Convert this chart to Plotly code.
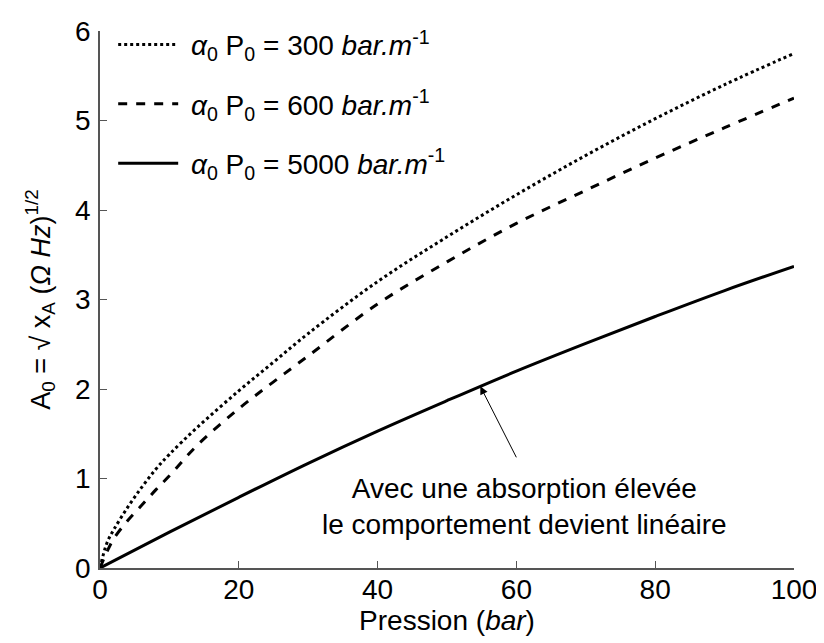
import plotly.graph_objects as go

# Data
x_300 = [0, 1, 2, 4, 6, 8, 10, 14, 20, 25, 30, 40, 50, 60, 70, 80, 90, 100]
y_300 = [0, 0.28, 0.43, 0.68, 0.9, 1.1, 1.27, 1.57, 1.98, 2.3, 2.62, 3.2, 3.7, 4.17, 4.61, 5.02, 5.4, 5.75]

x_600 = [0, 1, 2, 4, 6, 8, 10, 14, 20, 25, 30, 40, 50, 60, 70, 80, 90, 100]
y_600 = [0, 0.18, 0.33, 0.53, 0.7, 0.87, 1.03, 1.37, 1.78, 2.08, 2.37, 2.95, 3.42, 3.85, 4.22, 4.58, 4.92, 5.25]

x_5000 = [0, 10, 20, 30, 40, 50, 60, 70, 80, 90, 100]
y_5000 = [0, 0.4, 0.79, 1.17, 1.53, 1.87, 2.2, 2.51, 2.81, 3.1, 3.37]

names = [
    "\u00a0<i>α</i><sub>0</sub> P<sub>0</sub> = 300 <i>bar.m</i><sup>-1</sup>",
    "\u00a0<i>α</i><sub>0</sub> P<sub>0</sub> = 600 <i>bar.m</i><sup>-1</sup>",
    "\u00a0<i>α</i><sub>0</sub> P<sub>0</sub> = 5000 <i>bar.m</i><sup>-1</sup>",
]
x_ticks = [0, 20, 40, 60, 80, 100]
y_ticks = [0, 1, 2, 3, 4, 5, 6]

annot_text = "Avec une absorption élevée<br>le comportement devient linéaire"
arrow_head = (54.8, 2.03)
arrow_tail = (60.1, 1.22)
annot_pos = (61.2, 0.69)

FONT = "Liberation Sans, Arial, sans-serif"

fig = go.Figure()
series = [(x_300, y_300, "dot"), (x_600, y_600, "dash"), (x_5000, y_5000, "solid")]
for i, (xs, ys, dash) in enumerate(series):
    fig.add_trace(go.Scatter(
        x=xs, y=ys, mode="lines", name=names[i], legendgroup=f"g{i}",
        line=dict(color="black", width=3, dash=dash, shape="spline"),
    ))

fig.add_annotation(
    x=arrow_head[0], y=arrow_head[1], ax=arrow_tail[0], ay=arrow_tail[1],
    axref="x", ayref="y", xref="x", yref="y", text="",
    showarrow=True, arrowhead=2, arrowsize=1.6, arrowwidth=1, arrowcolor="black",
)
fig.add_annotation(
    x=annot_pos[0], y=annot_pos[1], xref="x", yref="y", text=annot_text,
    showarrow=False, font=dict(size=28, color="black", family=FONT), align="center",
)

# page body has an 8px margin, so the figure is sized to fit the window
fig.update_layout(
    width=816, height=635,
    margin=dict(l=92, r=30, t=14, b=75),
    paper_bgcolor="white", plot_bgcolor="white",
    font=dict(family=FONT, size=28, color="black"),
    showlegend=True,
    legend=dict(
        x=0.019, y=1.021, xanchor="left", yanchor="top",
        bgcolor="rgba(0,0,0,0)", font=dict(size=28, family=FONT),
        tracegroupgap=20, itemwidth=60,
    ),
    xaxis=dict(
        range=[0, 100], tickvals=x_ticks, ticks="inside", ticklen=7,
        tickcolor="#555", showline=True, linecolor="#555", linewidth=1.5,
        showgrid=False, zeroline=False, tickfont=dict(size=28),
        ticklabelstandoff=-4,
        title=dict(text="Pression (<i>bar</i>)", font=dict(size=28), standoff=0),
        automargin=False,
    ),
    yaxis=dict(
        range=[0, 6], tickvals=y_ticks, ticks="inside", ticklen=7,
        tickcolor="#555", showline=True, linecolor="#555", linewidth=1.5,
        showgrid=False, zeroline=False, tickfont=dict(size=28),
        ticklabelstandoff=2,
        title=dict(text="A<sub>0</sub> = √ x<sub>A</sub> (<i>Ω Hz</i>)<sup>1/2</sup>",
                   font=dict(size=27), standoff=17),
        automargin=False,
    ),
)

fig.write_html("out.html")
